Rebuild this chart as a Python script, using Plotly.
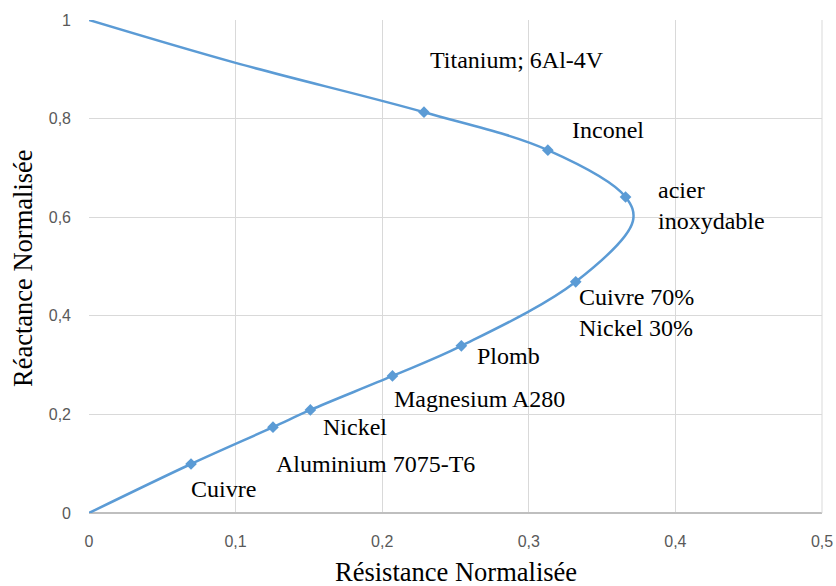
import plotly.graph_objects as go

# Material points (normalised resistance, normalised reactance)
materials = ["Titanium; 6Al-4V", "Inconel", "acier<br>inoxydable", "Cuivre 70%<br>Nickel 30%",
             "Plomb", "Magnesium A280", "Nickel", "Aluminium 7075-T6", "Cuivre"]
resistance = [0.2285, 0.313, 0.366, 0.332, 0.254, 0.207, 0.151, 0.1255, 0.0696]
reactance = [0.813, 0.736, 0.641, 0.469, 0.339, 0.278, 0.209, 0.174, 0.0994]

# Full curve: (0,1) -> materials -> (0,0), with the unmarked
# points at x=0.1 on the upper branch and at the nose of the curve
curve_x = [0.0, 0.100, 0.2285, 0.313, 0.366, 0.371, 0.332, 0.254, 0.207, 0.151, 0.1255, 0.0696, 0.0]
curve_y = [1.0, 0.913, 0.813, 0.736, 0.641, 0.592, 0.469, 0.339, 0.278, 0.209, 0.174, 0.0994, 0.0]

# Label anchor positions (data coords, left-aligned text)
label_x = [0.231, 0.328, 0.387, 0.333, 0.263, 0.207, 0.158, 0.126, 0.068]
label_y = [0.918, 0.777, 0.623, 0.406, 0.318, 0.232, 0.175, 0.100, 0.049]

x_title = "Résistance Normalisée"
y_title = "Réactance Normalisée"

blue = "#5B9BD5"
fig = go.Figure()
fig.add_trace(go.Scatter(
    x=curve_x, y=curve_y, mode="lines",
    line=dict(color=blue, width=2.5, shape="spline", smoothing=1.0),
    hoverinfo="skip", showlegend=False))
fig.add_trace(go.Scatter(
    x=resistance, y=reactance, mode="markers",
    marker=dict(color=blue, size=9, symbol="diamond"),
    showlegend=False))

serif = "Liberation Serif"
for t, lx, ly in zip(materials, label_x, label_y):
    fig.add_annotation(x=lx, y=ly, text=t, showarrow=False, xanchor="left", yanchor="middle",
                       align="left", font=dict(family=serif, size=24, color="#000000"))

# Axis titles as paper-anchored text
fig.add_annotation(x=0.5, y=-0.1197, xref="paper", yref="paper", text=x_title, showarrow=False,
                   xanchor="center", yanchor="middle",
                   font=dict(family=serif, size=26.5, color="#000000"))
fig.add_annotation(x=-0.090, y=0.497, xref="paper", yref="paper", text=y_title, showarrow=False,
                   textangle=-90, xanchor="center", yanchor="middle",
                   font=dict(family=serif, size=26.5, color="#000000"))

tickfont = dict(family="Liberation Sans", size=16, color="#595959")
fig.update_layout(
    width=836, height=586,
    margin=dict(l=89, r=14, t=20, b=73, autoexpand=False),
    paper_bgcolor="white", plot_bgcolor="white",
    separators=",.",
    xaxis=dict(range=[0, 0.5], dtick=0.1, showgrid=True, gridcolor="#D9D9D9", gridwidth=1,
               zeroline=False, showline=False, ticks="", tickfont=tickfont,
               ticklabelstandoff=17, automargin=False),
    yaxis=dict(range=[0, 1], dtick=0.2, showgrid=True, gridcolor="#D9D9D9", gridwidth=1,
               zeroline=True, zerolinecolor="#BFBFBF", zerolinewidth=1.5, showline=False, ticks="",
               tickfont=tickfont, ticklabelstandoff=17, automargin=False),
)
fig.add_shape(type="line", xref="paper", yref="paper", x0=1, x1=1, y0=0, y1=1,
              line=dict(color="#D9D9D9", width=1))
fig.write_html("out.html")
